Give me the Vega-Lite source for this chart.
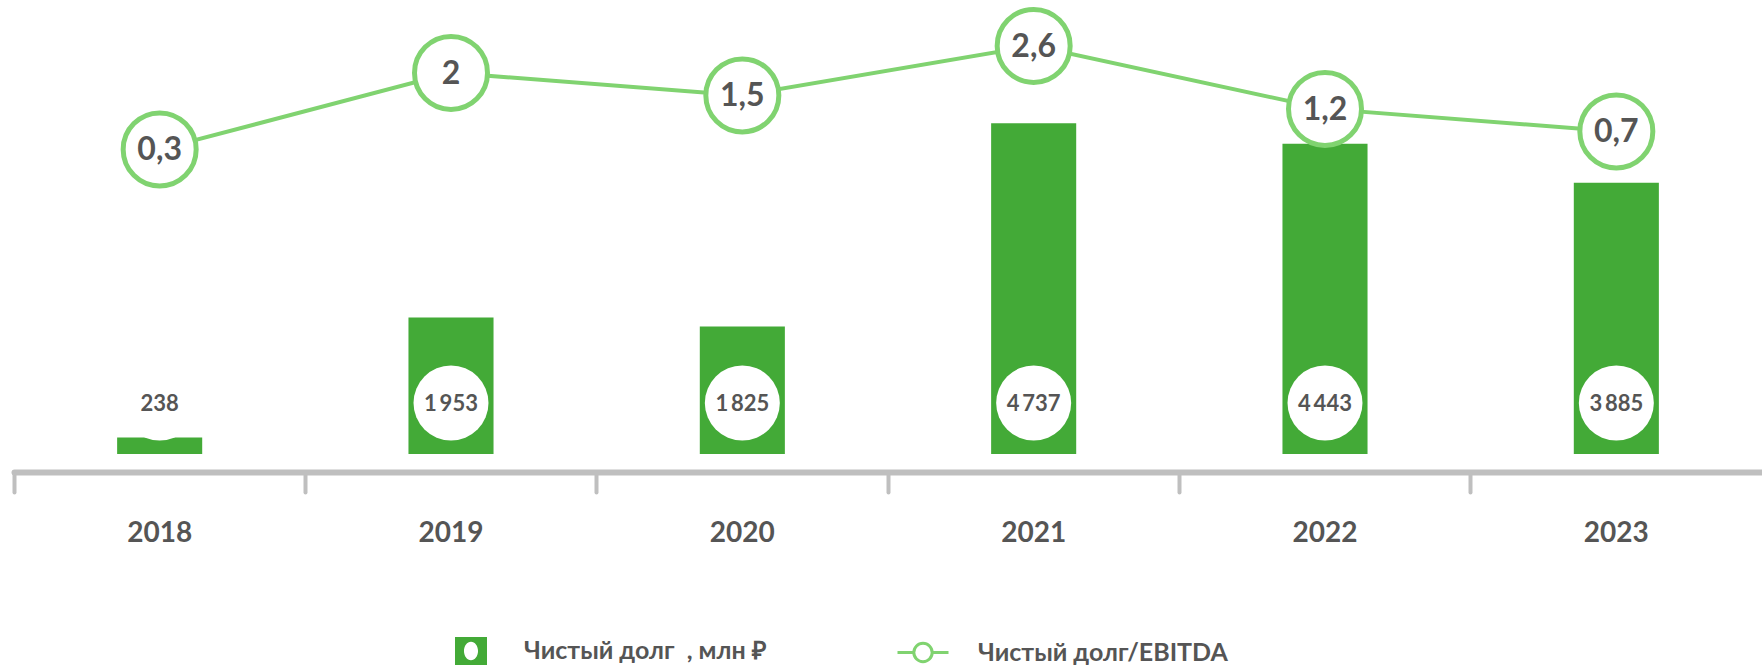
{
  "$schema": "https://vega.github.io/schema/vega-lite/v6.json",
  "width": 1748,
  "height": 454,
  "autosize": {"type": "none"},
  "padding": {"left": 14, "top": 0, "right": 0, "bottom": 211},
  "background": "white",
  "config": {
    "view": {"stroke": null},
    "font": "Lato",
    "locale": {"number": {"decimal": ",", "thousands": "\u2009", "grouping": [3], "currency": ["", " ₽"]}}
  },
  "data": {"values": [
    {"year": "2018", "debt": 238, "ratio": 0.3},
    {"year": "2019", "debt": 1953, "ratio": 2.0},
    {"year": "2020", "debt": 1825, "ratio": 1.5},
    {"year": "2021", "debt": 4737, "ratio": 2.6},
    {"year": "2022", "debt": 4443, "ratio": 1.2},
    {"year": "2023", "debt": 3885, "ratio": 0.7}
  ]},
  "encoding": {
    "x": {
      "field": "year", "type": "ordinal",
      "scale": {"paddingInner": 0, "paddingOuter": 0},
      "axis": {
        "title": null, "bandPosition": 0, "offset": 18,
        "domainColor": "#bfbfbf", "domainWidth": 6, "domainCap": "round",
        "tickColor": "#bfbfbf", "tickWidth": 4, "tickSize": 20, "tickCap": "round",
        "labelPadding": 27, "labelAngle": 0,
        "labelFont": "Lato", "labelFontSize": 28, "labelFontWeight": "bold", "labelColor": "#555555",
        "grid": false
      }
    }
  },
  "layer": [
    {
      "layer": [
        {
          "mark": {"type": "bar", "width": {"band": 0.292}},
          "encoding": {
            "y": {"field": "debt", "type": "quantitative", "scale": {"domain": [0, 6500], "nice": false}, "axis": null},
            "fill": {
              "datum": "Чистый долг\u00a0\u00a0, млн ₽",
              "scale": {"range": ["#43AA37"]},
              "legend": {
                "title": null, "orient": "none", "legendX": 441, "legendY": 635, "padding": 0,
                "symbolType": "M-1,-0.875H1V0.875H-1Z M0,-0.58A0.44,0.58 0 1,0 0,0.58A0.44,0.58 0 1,0 0,-0.58Z",
                "symbolSize": 1024, "symbolStrokeWidth": 0, "symbolOpacity": 1,
                "labelFont": "Lato", "labelFontSize": 25, "labelFontWeight": "bold", "labelColor": "#555555",
                "labelOffset": 37, "labelLimit": 0
              }
            }
          }
        },
        {
          "mark": {"type": "point", "filled": true, "color": "white", "size": 5625, "opacity": 1, "yOffset": -51},
          "encoding": {
            "y": {"datum": 0, "type": "quantitative"}
          }
        },
        {
          "mark": {"type": "text", "font": "Lato", "fontSize": 22, "fontWeight": "bold", "color": "#555555", "baseline": "middle", "yOffset": -50},
          "encoding": {
            "y": {"datum": 0, "type": "quantitative"},
            "text": {"field": "debt", "type": "quantitative", "format": ",d"}
          }
        }
      ]
    },
    {
      "layer": [
        {
          "mark": {"type": "line", "strokeWidth": 4},
          "encoding": {
            "y": {"field": "ratio", "type": "quantitative", "scale": {"domain": [-6.47, 3.62], "nice": false, "zero": false}, "axis": null},
            "stroke": {
              "datum": "Чистый долг/EBITDA",
              "scale": {"range": ["#80D370"]},
              "legend": {
                "title": null, "orient": "none", "legendX": 882, "legendY": 625.5, "padding": 0,
                "symbolType": "M-1,0H-0.36M0.36,0H1M0.36,0A0.36,0.36 0 1,1 -0.36,0A0.36,0.36 0 1,1 0.36,0",
                "symbolSize": 2601, "symbolStrokeWidth": 3, "symbolFillColor": "white",
                "labelFont": "Lato", "labelFontSize": 25, "labelFontWeight": "bold", "labelColor": "#555555",
                "labelOffset": 28, "labelLimit": 0
              }
            }
          }
        },
        {
          "mark": {"type": "point", "filled": false, "fill": "white", "stroke": "#80D370", "strokeWidth": 5, "size": 5329, "opacity": 1, "fillOpacity": 1, "strokeOpacity": 1},
          "encoding": {
            "y": {"field": "ratio", "type": "quantitative"}
          }
        },
        {
          "mark": {"type": "text", "font": "Lato", "fontSize": 32, "fontWeight": "bold", "color": "#555555", "baseline": "middle", "dy": 1},
          "encoding": {
            "y": {"field": "ratio", "type": "quantitative"},
            "text": {"field": "ratio", "type": "quantitative", "format": ".1~f"}
          }
        }
      ]
    }
  ],
  "resolve": {"scale": {"y": "independent"}}
}
